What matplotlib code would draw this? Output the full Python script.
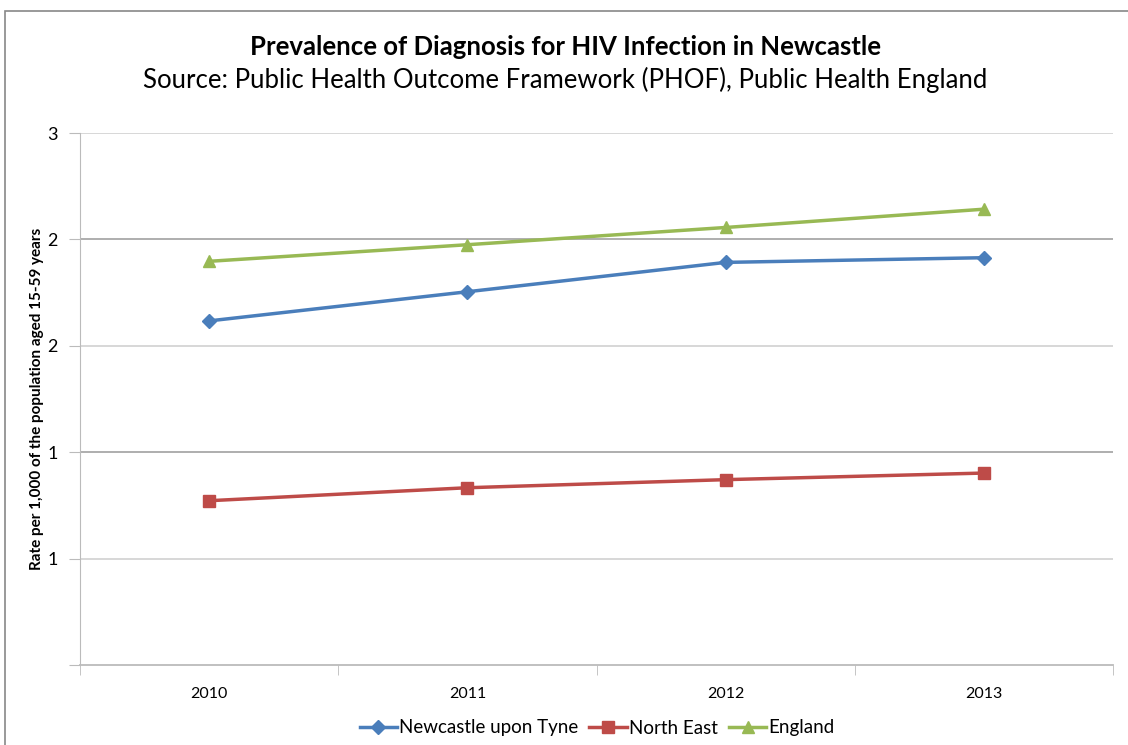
import matplotlib
matplotlib.use("Agg")
import matplotlib.pyplot as plt
from matplotlib.patches import Rectangle

years = ["2010", "2011", "2012", "2013"]
newcastle = [2.117, 2.254, 2.392, 2.414]
north_east = [1.272, 1.333, 1.371, 1.402]
england = [2.397, 2.475, 2.556, 2.642]

y_ticks = [0.5, 1.0, 1.5, 2.0, 2.5, 3.0]
y_tick_labels = ["", "1", "1", "2", "2", "3"]

plt.rcParams["font.family"] = ["Lato", "DejaVu Sans"]

fig = plt.figure(figsize=(11.28, 7.45), dpi=100)
fig.patches.append(Rectangle((5 / 1128, -0.1), 1.2, (745 - 11) / 745 + 0.1,
                             transform=fig.transFigure, fill=False,
                             edgecolor="#888888", linewidth=1.2))

ax = fig.add_axes([80 / 1128, 1 - 665 / 745, (1113 - 80) / 1128, (665 - 133) / 745])
x = range(len(years))

ax.plot(x, newcastle, color="#4a7ebb", marker="D", markersize=7, linewidth=2.5,
        label="Newcastle upon Tyne")
ax.plot(x, north_east, color="#be4b48", marker="s", markersize=8, linewidth=2.5,
        label="North East")
ax.plot(x, england, color="#98b954", marker="^", markersize=9, linewidth=2.5,
        label="England")

ax.set_xlim(-0.5, len(years) - 0.5)
ax.set_ylim(0.5, 3.0)
ax.set_xticks(list(x))
ax.set_xticklabels(years, fontsize=11.5)
ax.set_xticks([i - 0.5 for i in range(len(years) + 1)], minor=True)
ax.tick_params(axis="x", which="major", length=0, pad=16)
ax.tick_params(axis="x", which="minor", length=7, color="#bbbbbb")
ax.set_yticks(y_ticks)
ax.set_yticklabels(y_tick_labels, fontsize=13)
ax.tick_params(axis="y", length=8, color="#bbbbbb", pad=8)

for yv in y_ticks[1:]:
    shade = "#a8a8a8" if yv in (1.5, 2.5) else "#d4d4d4"
    ax.axhline(yv, color=shade, linewidth=1.3, zorder=0)

for side in ("top", "right"):
    ax.spines[side].set_visible(False)
ax.spines["left"].set_color("#bbbbbb")
ax.spines["bottom"].set_color("#bbbbbb")
ax.spines["bottom"].set_linewidth(1.3)

ax.set_ylabel("Rate per 1,000 of the population aged 15-59 years",
              fontsize=11, fontweight="bold", labelpad=2)

fig.text(565 / 1128, 1 - 47 / 745, "Prevalence of Diagnosis for HIV Infection in Newcastle",
         ha="center", va="center", fontsize=18.5, fontweight="bold")
fig.text(565 / 1128, 1 - 80 / 745, "Source: Public Health Outcome Framework (PHOF), Public Health England",
         ha="center", va="center", fontsize=18.5)

fig.legend(loc="center", bbox_to_anchor=(597 / 1128, 1 - 728 / 745), ncol=3,
           frameon=False, fontsize=13.5, handlelength=2.0, handletextpad=0.1,
           columnspacing=0.6)

fig.savefig("out.png", dpi=100)
